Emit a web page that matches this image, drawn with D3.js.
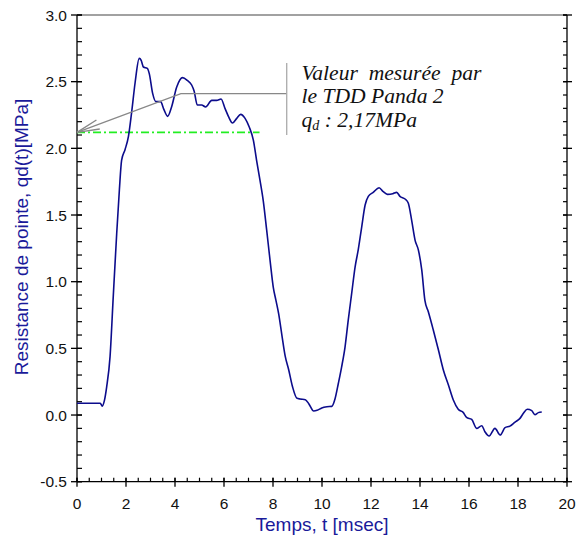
<!DOCTYPE html>
<html><head><meta charset="utf-8">
<script src="https://cdn.jsdelivr.net/npm/d3@7"></script>
<style>html,body{margin:0;padding:0;background:#fff;}svg{display:block;}</style>
</head><body>
<svg id="chart" width="583" height="541"></svg>
<script>
// ---- data ----
const timeMs = [0,0.5,0.95,1.03,1.12,1.21,1.35,1.48,1.62,1.73,1.82,1.96,2.1,2.23,2.37,2.54,2.62,2.71,2.87,2.95,3.09,3.22,3.41,3.55,3.70,3.86,4.07,4.31,4.50,4.68,4.78,4.91,5.09,5.25,5.50,5.70,5.88,6.04,6.18,6.35,6.52,6.68,6.86,7.03,7.2,7.33,7.47,7.6,7.74,7.88,8.01,8.12,8.23,8.37,8.5,8.64,8.8,8.98,9.11,9.32,9.46,9.66,9.8,9.99,10.2,10.4,10.53,10.67,10.8,10.94,11.07,11.21,11.35,11.48,11.62,11.76,11.89,12.09,12.33,12.5,12.67,12.89,13.05,13.18,13.39,13.52,13.66,13.80,13.93,14.07,14.2,14.34,14.54,14.75,14.95,15.16,15.36,15.56,15.77,15.9,16.11,16.31,16.52,16.65,16.82,17.06,17.27,17.47,17.67,17.88,18.08,18.22,18.38,18.56,18.69,18.83,18.97];
const qdValues = [0.088,0.088,0.088,0.067,0.11,0.21,0.44,0.89,1.36,1.69,1.91,1.99,2.09,2.27,2.49,2.675,2.66,2.61,2.60,2.56,2.41,2.35,2.35,2.29,2.24,2.31,2.46,2.53,2.51,2.475,2.43,2.325,2.325,2.31,2.36,2.36,2.37,2.30,2.24,2.19,2.225,2.255,2.225,2.16,2.06,1.91,1.76,1.61,1.39,1.16,0.96,0.86,0.76,0.59,0.44,0.34,0.21,0.125,0.12,0.115,0.085,0.03,0.035,0.053,0.062,0.065,0.12,0.24,0.36,0.51,0.71,0.91,1.11,1.24,1.41,1.575,1.64,1.67,1.705,1.675,1.655,1.66,1.67,1.64,1.62,1.59,1.46,1.31,1.24,1.09,0.86,0.775,0.64,0.49,0.34,0.225,0.1125,0.043,0.018,-0.018,-0.033,-0.1,-0.08,-0.125,-0.1575,-0.10,-0.15,-0.095,-0.083,-0.053,-0.025,0.0125,0.043,0.033,0.003,0.018,0.023];
const xTicks = [0,2,4,6,8,10,12,14,16,18,20];
const yTicks = [-0.5,0.0,0.5,1.0,1.5,2.0,2.5,3.0];
const measuredQd = [2.12];           // measured reference level (drawn line)
const measuredSpan = [0, 7.45];      // time extent of the dash-dot line
const annoArrow = [[0,2.12],[4.24,2.41],[8.56,2.41]]; // leader line (t, q)
const annoBar = [[8.56,2.64],[8.56,2.10]];
const annoLines = ["Valeur  mesurée  par", "le TDD Panda 2"];
const xTitle = "Temps, t [msec]";
const yTitle = "Resistance de pointe, qd(t)[MPa]";

// ---- layout ----
const svg = d3.select("#chart");
const L = 77, R = 567, T = 15, B = 481.7;
const x = d3.scaleLinear().domain([0,20]).range([L,R]);
const y = d3.scaleLinear().domain([-0.5,3.0]).range([B,T]);
const tickFont = "Liberation Sans, Arial, sans-serif";
const blue = "#1a1a9a";

// frame top line
svg.append("line").attr("x1",L).attr("x2",R).attr("y1",T).attr("y2",T)
  .attr("stroke","#444").attr("stroke-width",1.2);

// bottom axis
const xMinor = d3.range(0,20.001,0.5);
const gx = svg.append("g");
gx.append("line").attr("x1",L).attr("x2",R).attr("y1",B).attr("y2",B).attr("stroke","#000").attr("stroke-width",1.3);
gx.selectAll(".mn").data(xMinor).join("line")
  .attr("x1",d=>x(d)).attr("x2",d=>x(d)).attr("y1",B).attr("y2",B-4)
  .attr("stroke","#000").attr("stroke-width",1.2);
gx.selectAll(".mj").data(xTicks).join("line")
  .attr("x1",d=>x(d)).attr("x2",d=>x(d)).attr("y1",B-4).attr("y2",B+5)
  .attr("stroke","#000").attr("stroke-width",1.3);
gx.selectAll("text").data(xTicks).join("text")
  .attr("x",d=>x(d)).attr("y",B+27).attr("text-anchor","middle")
  .attr("font-family",tickFont).attr("font-size",15.5).attr("fill","#111")
  .text(d=>d3.format("d")(d));

// left axis
const yMinor = d3.range(-0.5,3.0001,0.1);
const gy = svg.append("g");
gy.append("line").attr("x1",L).attr("x2",L).attr("y1",T).attr("y2",B).attr("stroke","#000").attr("stroke-width",1.3);
gy.selectAll(".mn").data(yMinor).join("line")
  .attr("x1",L).attr("x2",L+5).attr("y1",d=>y(d)).attr("y2",d=>y(d))
  .attr("stroke","#000").attr("stroke-width",1.2);
gy.selectAll(".mj").data(yTicks).join("line")
  .attr("x1",L-6).attr("x2",L+5).attr("y1",d=>y(d)).attr("y2",d=>y(d))
  .attr("stroke","#000").attr("stroke-width",1.3);
gy.selectAll("text").data(yTicks).join("text")
  .attr("x",L-10).attr("y",d=>y(d)+5.5).attr("text-anchor","end")
  .attr("font-family",tickFont).attr("font-size",15.5).attr("fill","#111")
  .text(d=>d3.format(".1f")(d).replace("−","-"));

// right axis
const gr = svg.append("g");
gr.append("line").attr("x1",R).attr("x2",R).attr("y1",T).attr("y2",B).attr("stroke","#000").attr("stroke-width",1.3);
gr.selectAll(".mn").data(yMinor).join("line")
  .attr("x1",R-4).attr("x2",R).attr("y1",d=>y(d)).attr("y2",d=>y(d))
  .attr("stroke","#000").attr("stroke-width",1.2);
gr.selectAll(".mj").data(yTicks).join("line")
  .attr("x1",R-4).attr("x2",R+5).attr("y1",d=>y(d)).attr("y2",d=>y(d))
  .attr("stroke","#000").attr("stroke-width",1.3);

// titles
svg.append("text").attr("x",(L+R)/2).attr("y",531).attr("text-anchor","middle")
  .attr("font-family",tickFont).attr("font-size",19).attr("fill",blue).text(xTitle);
svg.append("text").attr("transform",`translate(28,237) rotate(-90)`).attr("text-anchor","middle")
  .attr("font-family",tickFont).attr("font-size",19).attr("fill",blue).text(yTitle);

// measured level dash-dot line
svg.append("line").attr("x1",x(measuredSpan[0])).attr("x2",x(measuredSpan[1]))
  .attr("y1",y(measuredQd[0])).attr("y2",y(measuredQd[0]))
  .attr("stroke","#22ee22").attr("stroke-width",1.6).attr("stroke-dasharray","8,3,2,3");

// curve
const pts = timeMs.map((t,i)=>[t,qdValues[i]]);
svg.append("path").datum(pts)
  .attr("d",d3.line().x(d=>x(d[0])).y(d=>y(d[1])).curve(d3.curveMonotoneX))
  .attr("fill","none").attr("stroke","#0c0c8c").attr("stroke-width",1.6);

// annotation leader
const gray = "#888";
svg.append("path").datum(annoArrow)
  .attr("d",d3.line().x(d=>x(d[0])).y(d=>y(d[1])))
  .attr("fill","none").attr("stroke",gray).attr("stroke-width",1.3);
svg.append("path").datum(annoBar)
  .attr("d",d3.line().x(d=>x(d[0])).y(d=>y(d[1])))
  .attr("fill","none").attr("stroke","#aaa").attr("stroke-width",1.3);
// arrow head
{
  const tip = [x(annoArrow[0][0]), y(annoArrow[0][1])];
  const p1 = [x(annoArrow[1][0]), y(annoArrow[1][1])];
  const ang = Math.atan2(p1[1]-tip[1], p1[0]-tip[0]);
  const len = 23, half = 12*Math.PI/180;
  const a = [tip[0]+len*Math.cos(ang-half), tip[1]+len*Math.sin(ang-half)];
  const b = [tip[0]+len*Math.cos(ang+half), tip[1]+len*Math.sin(ang+half)];
  svg.append("path").attr("d",`M${a[0]},${a[1]}L${tip[0]},${tip[1]}L${b[0]},${b[1]}`)
    .attr("fill","none").attr("stroke",gray).attr("stroke-width",1.4);
}
// annotation text
const serif = "Liberation Serif, Times New Roman, serif";
const tx = 301.5;
annoLines.forEach((s,i)=>{
  svg.append("text").attr("x",tx).attr("y",79.5+i*23.5)
    .attr("font-family",serif).attr("font-style","italic").attr("font-size",21.6)
    .attr("fill","#111").style("white-space","pre").text(s);
});
const t3 = svg.append("text").attr("x",tx).attr("y",126.5)
  .attr("font-family",serif).attr("font-style","italic").attr("font-size",21.6).attr("fill","#111")
  .style("white-space","pre");
t3.append("tspan").text("q");
t3.append("tspan").attr("font-size",14).attr("dy",3).text("d");
t3.append("tspan").attr("dy",-3).text(" : 2,17MPa");
</script>
</body></html>
